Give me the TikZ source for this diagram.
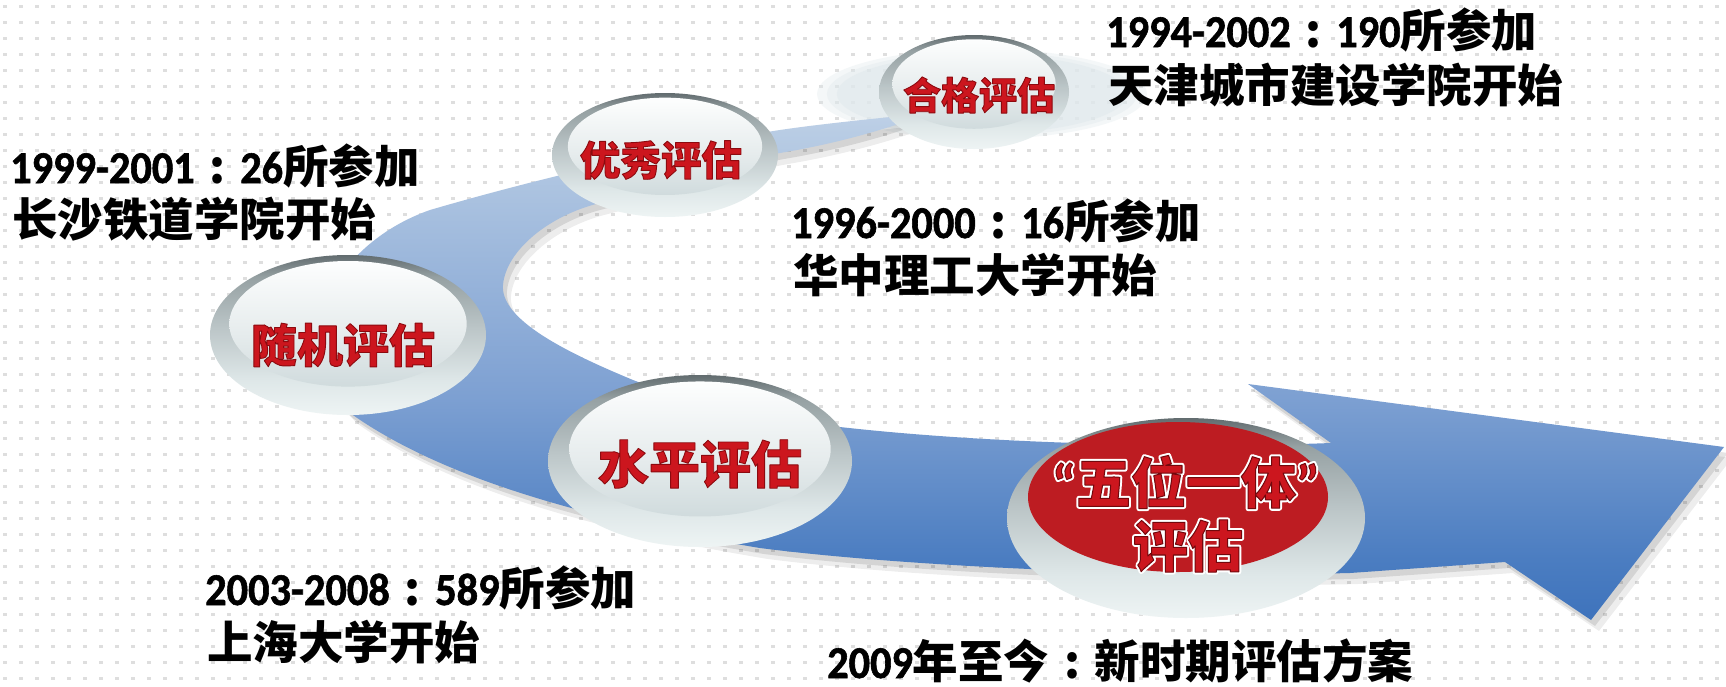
\documentclass[tikz,border=0pt]{standalone}
\usepackage{fontspec}
\usetikzlibrary{shapes.geometric,calc}
\newfontfamily\cjk{Noto Sans CJK SC}
\newfontfamily\latf{Carlito}[BoldFont={Carlito Bold}, FakeStretch=0.93, FakeBold=1.3]
\newfontfamily\latq{Carlito}[BoldFont={Carlito Bold}]
\newcommand\dg[1]{{\latf #1}}
\newcommand\qt[1]{{\latq #1}}
\newcommand\cc{\makebox[1em][c]{:}}
% text filled and stroked at once: #1 stroke colour (r g b), #2 stroke width, #3 text
\newcommand\strk[3]{\special{pdf:literal direct #1 RG #2 w 1 j 2 Tr}#3\special{pdf:literal direct 0 Tr}}
% text stroked only (white halo)
\newcommand\halo[2]{\special{pdf:literal direct 1 1 1 RG #1 w 1 j 1 Tr}#2\special{pdf:literal direct 0 Tr}}
\definecolor{dotc}{RGB}{222,222,222}
\definecolor{glowc}{RGB}{224,233,236}
\definecolor{bandA}{RGB}{62,115,188}
\definecolor{bandB}{RGB}{75,125,193}
\definecolor{bandC}{RGB}{125,160,210}
\definecolor{bandD}{RGB}{184,204,228}
\definecolor{bandE}{RGB}{190,208,231}
\definecolor{rimA}{RGB}{238,244,244}
\definecolor{rimB}{RGB}{222,231,232}
\definecolor{rimC}{RGB}{188,198,200}
\definecolor{rimD}{RGB}{150,161,163}
\definecolor{rimE}{RGB}{98,108,111}
\definecolor{faceA}{RGB}{208,219,221}
\definecolor{faceB}{RGB}{229,235,236}
\definecolor{faceC}{RGB}{253,254,254}
\definecolor{redface}{RGB}{189,28,34}
\definecolor{lred}{RGB}{204,22,30}
\pgfdeclareverticalshading{bandsh}{100bp}{color(0bp)=(bandA); color(25bp)=(bandA); color(31bp)=(bandB); color(47bp)=(bandC); color(73bp)=(bandD); color(75bp)=(bandE); color(100bp)=(bandE)}
\pgfdeclareverticalshading{rimsh}{100bp}{color(0bp)=(rimA); color(25bp)=(rimA); color(36bp)=(rimB); color(52bp)=(rimC); color(68bp)=(rimD); color(75bp)=(rimE); color(100bp)=(rimE)}
\pgfdeclareverticalshading{facesh}{100bp}{color(0bp)=(faceA); color(25bp)=(faceA); color(45bp)=(faceB); color(75bp)=(faceC); color(100bp)=(faceC)}
\tikzset{
  rimst/.style={ellipse, inner sep=0pt, shading=rimsh},
  facest/.style={ellipse, inner sep=0pt, shading=facesh},
  redst/.style={ellipse, inner sep=0pt, fill=redface},
  blk/.style={inner sep=0pt, anchor=base west, text=black, font={\cjk\bfseries\fontsize{45.5}{50}\selectfont}},
}
\newcommand\btn[5]{%
  \node[rimst, minimum width={2*#4}, minimum height={2*#5}] (#1) at (#2,#3) {};
  \node[facest, minimum width={1.72*#4}, minimum height={1.57*#5}] (#1f) at (#2,{#3-0.14*#5}) {};
}
% red label on a light button: thin dark red edge
\newcommand\rlab[5]{%
  \node[inner sep=0pt, text=lred, font={\cjk\bfseries\fontsize{#4}{#4}\selectfont}] (#1) at (#2,#3) {\strk{0.55 0.04 0.06}{0.9}{#5}};
}
% red label on the red button: white halo behind, red letters on top
\newcommand\wlab[5]{%
  \node[inner sep=0pt, text=white, font={\cjk\bfseries\fontsize{#4}{#4}\selectfont}] (#1h) at (#2,#3) {\halo{5}{#5}};
  \node[inner sep=0pt, text=lred, font={\cjk\bfseries\fontsize{#4}{#4}\selectfont}] (#1) at (#2,#3) {\strk{0.45 0.03 0.05}{1.0}{#5}};
}
\newcommand\blab[4]{%
  \node[blk] (#1) at (#2,#3) {#4};
}
\def\band{(930,113) .. controls (880,118) and (820,124) .. (780,130)
  .. controls (700,142) and (560,172) .. (430,210)
  .. controls (330,245) and (280,350) .. (350,413)
  .. controls (430,470) and (560,515) .. (760,548)
  .. controls (900,566) and (1150,578) .. (1350,573)
  -- (1505,562) -- (1591,620) -- (1724,447) -- (1248,384) -- (1331,443)
  .. controls (1200,448) and (1000,445) .. (840,427)
  .. controls (760,418) and (690,402) .. (633,380)
  .. controls (568,353) and (500,320) .. (503,285)
  .. controls (506,250) and (550,215) .. (600,203)
  .. controls (680,182) and (730,162) .. (780,153)
  .. controls (840,143) and (890,128) .. (930,113) -- cycle}
\begin{document}
\begin{tikzpicture}[x=1pt,y=-1pt]
\useasboundingbox (0,0) rectangle (1726,686);
\fill[white] (0,0) rectangle (1726,686);
\foreach \r in {0,...,42}{
  \draw[dotc, line width=3.5pt, dash pattern=on 3.5pt off 12.5pt] (3.25,{6.5+16*\r}) -- (1726,{6.5+16*\r});
}
% glow behind the top button
\foreach \s/\o in {1/0.35,0.94/0.4,0.88/0.5}{
  \fill[glowc, opacity=\o] (982,94) ellipse ({165*\s} and {45*\s});
}
% band with shadow
\fill[black, opacity=0.07, shift={(8,11)}] \band;
\fill[black, opacity=0.10, shift={(4,6)}] \band;
\shade[shading=bandsh] \band;
% buttons
\btn{b1}{974}{92}{95}{57}
\btn{b2}{665}{155}{113}{62}
\btn{b3}{348}{335}{138}{80}
\btn{b4}{700}{461}{152}{86}
\node[rimst, minimum width=358, minimum height=200] (b5) at (1186,518) {};
\node[redst, minimum width=300, minimum height=150] (b5f) at (1178,497) {};
% button labels
\rlab{l1}{979}{95}{38}{合格评估}
\rlab{l2}{661}{160}{40.5}{优秀评估}
\rlab{l3}{343}{345}{46}{随机评估}
\rlab{l4}{700}{464}{51}{水平评估}
\wlab{l5a}{1186}{482}{55}{\qt{“}五位一体\qt{”}}
\wlab{l5b}{1188}{546}{55}{评估}
% texts
\blab{t1a}{1106}{47}{\dg{1994-2002}\cc\dg{190}所参加}
\blab{t1b}{1108}{102}{天津城市建设学院开始}
\blab{t2a}{10}{183}{\dg{1999-2001}\cc\dg{26}所参加}
\blab{t2b}{12}{236}{长沙铁道学院开始}
\blab{t3a}{791}{238}{\dg{1996-2000}\cc\dg{16}所参加}
\blab{t3b}{793}{292}{华中理工大学开始}
\blab{t4a}{205}{605}{\dg{2003-2008}\cc\dg{589}所参加}
\blab{t4b}{207}{659}{上海大学开始}
\blab{t5}{827}{678}{\dg{2009}年至今\cc 新时期评估方案}
\end{tikzpicture}
\end{document}
